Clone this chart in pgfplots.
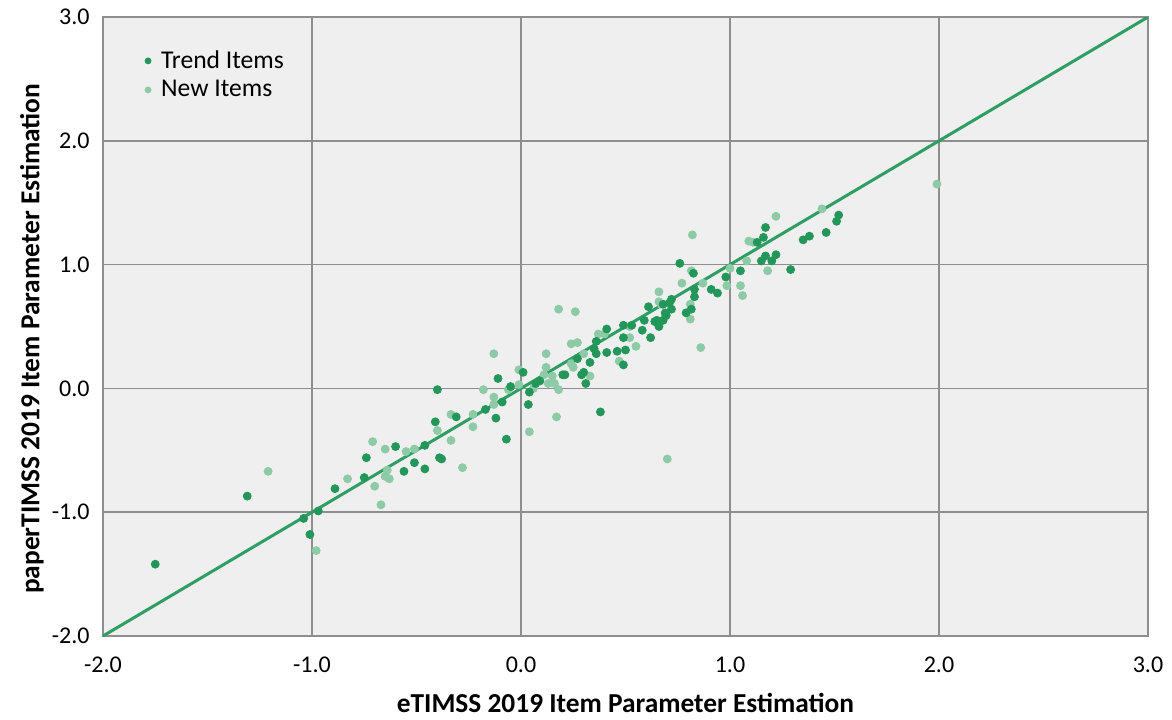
\documentclass[border=0pt]{standalone}
\usepackage{pgfplots}
\pgfplotsset{compat=1.18}
\usepackage{fontspec}
\setmainfont{Carlito}
\definecolor{trend}{HTML}{23975A}
\definecolor{newi}{HTML}{8DCAA6}
\definecolor{diag}{HTML}{2E9E63}
\definecolor{bg}{HTML}{EFEFEF}
\definecolor{gridc}{HTML}{8E8E8E}
\begin{document}
\begin{tikzpicture}
\begin{axis}[
  scale only axis,
  width=522.5pt, height=309.5pt,
  xmin=-2, xmax=3, ymin=-2, ymax=3,
  xtick={-2,-1,0,1,2,3}, ytick={-2,-1,0,1,2,3},
  xticklabels={-2.0,-1.0,0.0,1.0,2.0,3.0},
  yticklabels={-2.0,-1.0,0.0,1.0,2.0,3.0},
  major tick length=0pt,
  grid=major,
  major grid style={gridc, line width=0.75pt},
  axis line style={gridc, line width=0.75pt},
  axis background/.style={fill=bg},
  tick label style={font=\fontsize{12}{14}\selectfont, black},
  xticklabel style={inner sep=0pt, anchor=center, yshift=-14.5pt},
  yticklabel style={inner sep=0pt, anchor=east, xshift=-6.5pt},
  xlabel={eTIMSS 2019 Item Parameter Estimation},
  ylabel={paperTIMSS 2019 Item Parameter Estimation},
  xlabel style={font=\fontsize{13.7}{16}\selectfont\bfseries, at={(axis description cs:0.5,0)}, anchor=center, yshift=-33.5pt, inner sep=0pt},
  ylabel style={font=\fontsize{13.7}{16}\selectfont\bfseries, at={(axis description cs:-0.068,0.48)}, anchor=center, inner sep=0pt},
  legend style={at={(axis description cs:0.037,0.953)}, anchor=north west, draw=none, fill=none, font=\fontsize{12.8}{15}\selectfont, row sep=0.5pt, inner sep=0pt},
  legend cell align=left,
  legend image post style={mark size=1.5pt},
  legend image code/.code={\path[draw=none,fill=none] (0pt,-2pt) rectangle (7.5pt,2pt); \draw plot coordinates {(3pt,0pt)};},
  reverse legend,
]
\addplot[diag, line width=1.5pt, forget plot] coordinates {(-2,-2) (3,3)};
\addplot[only marks, mark=*, mark size=2pt, color=newi] coordinates {
(-1.21,-0.67) (-0.335,-0.21) (-0.23,-0.21) (-0.23,-0.31) (-0.40,-0.34)
(-0.335,-0.42) (-0.71,-0.43) (-0.65,-0.49) (-0.55,-0.51) (-0.51,-0.49)
(-0.28,-0.64) (-0.64,-0.66) (-0.65,-0.71) (-0.63,-0.73) (-0.83,-0.73)
(-0.70,-0.79) (-0.67,-0.94) (-0.98,-1.31) (0.18,0.64) (0.26,0.62)
(-0.13,0.28) (0.66,0.78) (0.66,0.70) (0.52,0.50) (0.52,0.41)
(0.55,0.34) (0.47,0.22) (0.37,0.44) (0.40,0.44) (0.24,0.36)
(0.27,0.37) (0.12,0.28) (0.30,0.28) (0.24,0.20) (0.25,0.17)
(0.33,0.10) (0.12,0.17) (0.11,0.11) (0.15,0.10) (0.13,0.04)
(0.16,0.04) (0.18,-0.01) (0.06,0.00) (-0.01,0.15) (0.17,-0.23)
(0.04,-0.35) (-0.01,0.03) (-0.06,-0.01) (-0.18,-0.01) (-0.13,-0.07)
(-0.13,-0.13) (0.70,-0.57) (0.82,1.24) (1.22,1.39) (1.44,1.45)
(1.09,1.19) (1.11,1.18) (1.08,1.03) (1.18,0.95) (1.00,0.97)
(1.05,0.83) (1.06,0.75) (0.985,0.83) (0.815,0.95) (0.77,0.85)
(0.87,0.85) (0.81,0.68) (0.81,0.56) (0.86,0.33) (0.67,0.68)
(0.69,0.58) (1.99,1.65)
};
\addlegendentry{New Items}
\addplot[only marks, mark=*, mark size=2pt, color=trend] coordinates {
(-1.75,-1.42) (-1.31,-0.87) (-0.40,-0.01) (-0.41,-0.27) (-0.31,-0.23)
(-0.46,-0.46) (-0.60,-0.47) (-0.74,-0.56) (-0.39,-0.56) (-0.38,-0.57)
(-0.51,-0.60) (-0.46,-0.65) (-0.56,-0.67) (-0.75,-0.72) (-0.89,-0.81)
(-0.97,-0.99) (-1.04,-1.05) (-1.01,-1.18) (0.61,0.66) (0.68,0.68)
(0.69,0.61) (0.64,0.54) (0.66,0.50) (0.59,0.55) (0.58,0.47)
(0.62,0.41) (0.53,0.51) (0.49,0.51) (0.49,0.41) (0.50,0.31)
(0.46,0.30) (0.49,0.19) (0.41,0.48) (0.36,0.38) (0.35,0.32)
(0.36,0.28) (0.41,0.29) (0.33,0.21) (0.27,0.24) (0.20,0.11)
(0.21,0.11) (0.29,0.11) (0.30,0.13) (0.31,0.04) (0.09,0.06)
(0.07,0.04) (0.04,-0.03) (0.01,0.13) (0.035,-0.13) (0.38,-0.19)
(-0.11,0.08) (-0.05,0.015) (-0.09,-0.11) (-0.17,-0.17) (-0.12,-0.24)
(-0.07,-0.41) (1.52,1.40) (1.51,1.35) (1.46,1.26) (1.35,1.20)
(1.38,1.23) (1.17,1.30) (1.16,1.22) (1.13,1.18) (1.17,1.07)
(1.22,1.08) (1.15,1.03) (1.20,1.03) (1.29,0.96) (1.05,0.95)
(0.98,0.90) (0.76,1.01) (0.825,0.93) (0.83,0.80) (0.83,0.74)
(0.91,0.80) (0.94,0.77) (0.815,0.64) (0.79,0.61) (0.72,0.72)
(0.71,0.69) (0.72,0.64) (0.695,0.59) (0.65,0.55) (0.68,0.55)
};
\addlegendentry{Trend Items}
\end{axis}
\pgfresetboundingbox
\path[use as bounding box] (-51.5pt,-41.5pt) rectangle (534.5pt,318pt);
\end{tikzpicture}
\end{document}
